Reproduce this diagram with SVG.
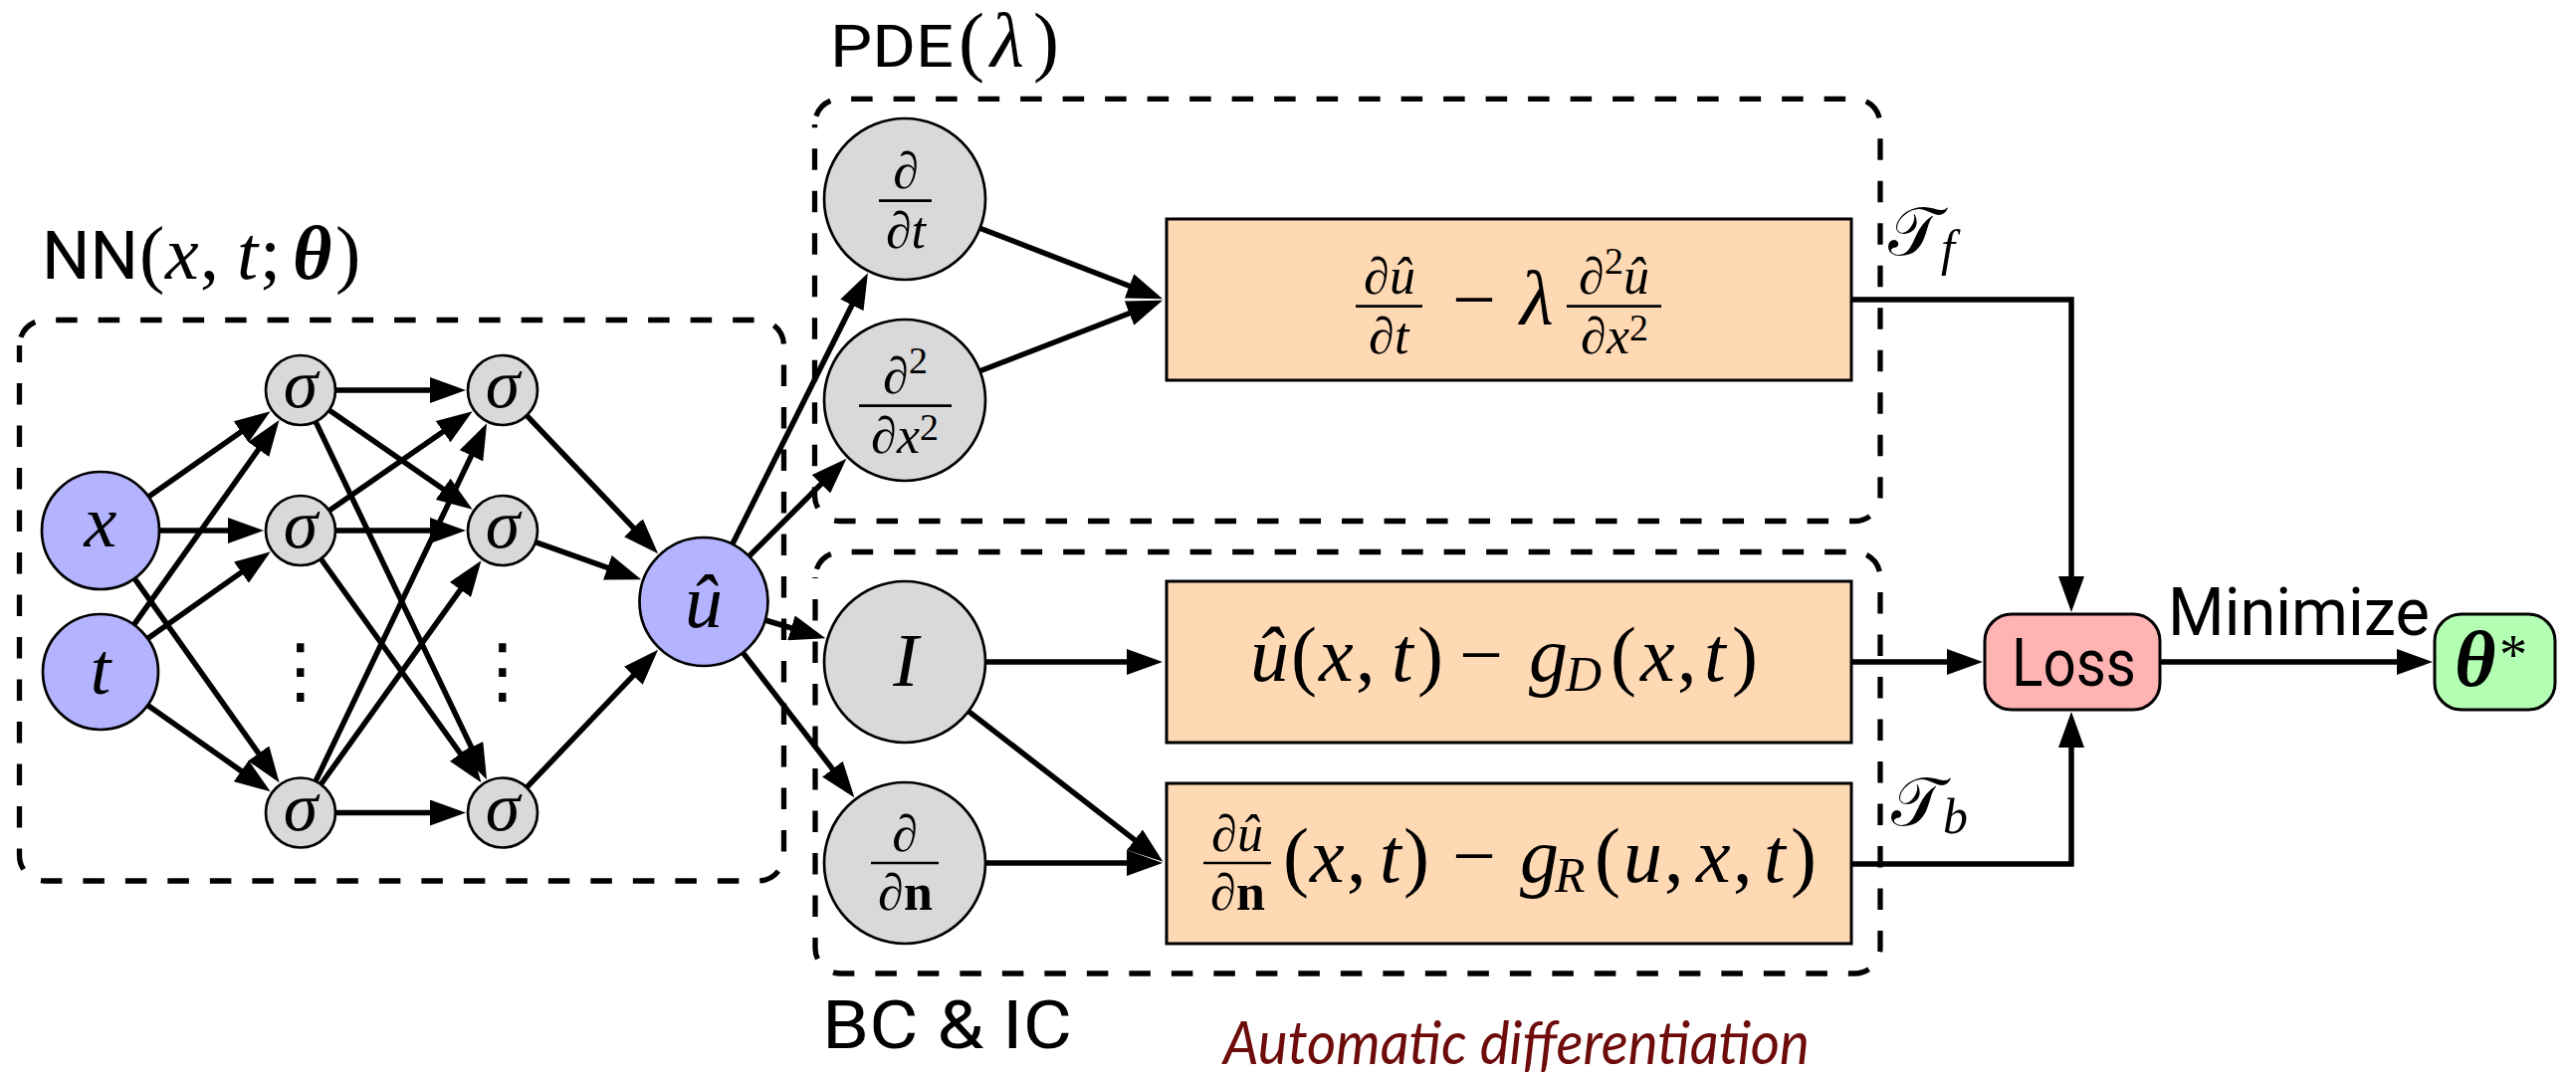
<svg xmlns="http://www.w3.org/2000/svg" width="2588" height="1081" viewBox="0 0 2588 1081">
<style>
.dash{fill:none;stroke:#000;stroke-width:5.3;stroke-dasharray:21.5 21;stroke-dashoffset:34}
.conn{fill:none;stroke:#000;stroke-width:5.5;marker-end:url(#ah)}
.in{fill:#b3b3ff;stroke:#000;stroke-width:2.7}
.hid{fill:#d9d9d9;stroke:#000;stroke-width:2.7}
.box{fill:#ffd9b3;stroke:#000;stroke-width:3}
.loss{fill:#ffb3b3;stroke:#000;stroke-width:3}
.out{fill:#b3ffb3;stroke:#000;stroke-width:3}
.mi{font-family:"Liberation Serif",serif;font-style:italic;fill:#000}
.fr{font-family:"Liberation Serif",serif;font-style:italic;fill:#000;font-size:52px}
.rm{font-style:normal}
.bf{font-weight:bold;font-style:normal}
.bi{font-weight:bold;font-style:italic}
.sup{font-style:normal;font-size:38px}
.sans{font-family:Roboto,"Liberation Sans",sans-serif;fill:#000}
.bar{stroke:#000;stroke-width:2.7}
.cal{font-family:"DejaVu Serif","DejaVu Sans",serif;font-style:normal}
</style>
<defs>
<marker id="ah" viewBox="0 0 36 26" markerWidth="36" markerHeight="26" refX="18" refY="13" markerUnits="userSpaceOnUse" orient="auto">
<path d="M0,0 L36,13 L0,26 Z" fill="#000"/>
</marker>
</defs>
<rect width="2588" height="1081" fill="#fff"/>

<g id="frames">
<path class="dash" d="M19.5,347.1 A25.6,25.6 0 0 1 45.1,321.5 H761.9 A25.6,25.6 0 0 1 787.5,347.1 V859.4 A25.6,25.6 0 0 1 761.9,885 H45.1 A25.6,25.6 0 0 1 19.5,859.4 Z"/>
<path class="dash" d="M818.5,124.9 A25.6,25.6 0 0 1 844.1,99.3 H1863.4 A25.6,25.6 0 0 1 1889,124.9 V497.9 A25.6,25.6 0 0 1 1863.4,523.5 H844.1 A25.6,25.6 0 0 1 818.5,497.9 Z"/>
<path class="dash" d="M819,580.1 A25.6,25.6 0 0 1 844.6,554.5 H1863.4 A25.6,25.6 0 0 1 1889,580.1 V952.4 A25.6,25.6 0 0 1 1863.4,978 H844.6 A25.6,25.6 0 0 1 819,952.4 Z"/>
</g>

<g id="labels">
<text class="sans" x="42" y="280" font-size="66" textLength="97" lengthAdjust="spacingAndGlyphs">NN</text>
<text class="mi" y="280" font-size="76"><tspan class="rm" x="140">(</tspan><tspan x="166">x</tspan><tspan class="rm" x="201">,</tspan><tspan x="238">t</tspan><tspan class="rm" x="261">;</tspan><tspan class="bi" x="294">θ</tspan><tspan class="rm" x="337">)</tspan></text>
<text class="sans" x="834" y="67" font-size="60" textLength="124" lengthAdjust="spacingAndGlyphs">PDE</text>
<text class="mi" y="67" font-size="78"><tspan class="rm" x="963">(</tspan><tspan x="995">λ</tspan><tspan class="rm" x="1038">)</tspan></text>
<text class="sans" x="826" y="1053" font-size="67" textLength="251" lengthAdjust="spacingAndGlyphs">BC &amp; IC</text>
<text x="1229" y="1069" font-family="Lato,'Open Sans',sans-serif" font-style="italic" font-size="60" fill="#6e0b0b" textLength="589" lengthAdjust="spacingAndGlyphs">Automatic differentiation</text>
<text class="mi" y="256" font-size="68"><tspan class="cal" x="1897">𝒯</tspan><tspan x="1950" dy="10" font-size="50">f</tspan></text>
<text class="mi" y="829" font-size="68"><tspan class="cal" x="1900">𝒯</tspan><tspan x="1952" dy="8" font-size="50">b</tspan></text>
<text class="sans" x="2178" y="638" font-size="66" textLength="263" lengthAdjust="spacingAndGlyphs">Minimize</text>
</g>

<g id="connectors">
<path class="conn" d="M149.3,499.1 L256.9,423.6"/>
<path class="conn" d="M160,533 L247,533"/>
<path class="conn" d="M135.1,581.1 L270.2,771.6"/>
<path class="conn" d="M134.6,627.7 L270.1,436.8"/>
<path class="conn" d="M148.4,641.5 L257.1,564.7"/>
<path class="conn" d="M148.4,708.4 L257,784.9"/>
<path class="conn" d="M337,392 L450,392"/>
<path class="conn" d="M330.7,412 L459.9,501.6"/>
<path class="conn" d="M317.1,423.6 L481.3,766.9"/>
<path class="conn" d="M330.7,513 L459.9,423.4"/>
<path class="conn" d="M337,533 L450,533"/>
<path class="conn" d="M322.4,561.5 L473,771.7"/>
<path class="conn" d="M317.1,784.9 L481.3,441.6"/>
<path class="conn" d="M322.4,788 L473,577.8"/>
<path class="conn" d="M337,816.5 L450,816.5"/>
<path class="conn" d="M529.1,417.4 L648.8,543.3"/>
<path class="conn" d="M538,544.7 L627.3,576.3"/>
<path class="conn" d="M529.1,791.2 L648.7,665.7"/>
<path class="conn" d="M735.8,546.8 L863.9,290.4"/>
<path class="conn" d="M752.6,558.8 L837.7,473.5"/>
<path class="conn" d="M768.8,623 L812.2,636.1"/>
<path class="conn" d="M746.3,655.6 L847.4,786.9"/>
<path class="conn" d="M984.5,229.2 L1151.3,293.8"/>
<path class="conn" d="M984.5,372.8 L1151.3,308.2"/>
<path class="conn" d="M990,665 L1150,665"/>
<path class="conn" d="M973.1,714.6 L1154.2,854.8"/>
<path class="conn" d="M990,867 L1150,867"/>
<path class="conn" d="M1860,301 H2081 V597"/>
<path class="conn" d="M1860,665 H1974"/>
<path class="conn" d="M1860,868 H2081 V733"/>
<path class="conn" d="M2170,665 H2426"/>
</g>

<g id="node-x"><circle class="in" cx="101" cy="533" r="59"/><text class="mi" x="101" y="549" font-size="74" text-anchor="middle">x</text></g>
<g id="node-t"><circle class="in" cx="101" cy="675" r="58"/><text class="mi" x="101" y="697" font-size="74" text-anchor="middle">t</text></g>

<g id="node-h1a"><circle class="hid" cx="302" cy="392" r="35"/><text class="mi" x="302" y="409" font-size="70" text-anchor="middle">σ</text></g>
<g id="node-h1b"><circle class="hid" cx="302" cy="533" r="35"/><text class="mi" x="302" y="550" font-size="70" text-anchor="middle">σ</text></g>
<g id="node-h1dots"><text x="302" y="698" font-family="DejaVu Sans,sans-serif" font-size="72" text-anchor="middle">⋮</text></g>
<g id="node-h1c"><circle class="hid" cx="302" cy="816.5" r="35"/><text class="mi" x="302" y="833.5" font-size="70" text-anchor="middle">σ</text></g>

<g id="node-h2a"><circle class="hid" cx="505" cy="392" r="35"/><text class="mi" x="505" y="409" font-size="70" text-anchor="middle">σ</text></g>
<g id="node-h2b"><circle class="hid" cx="505" cy="533" r="35"/><text class="mi" x="505" y="550" font-size="70" text-anchor="middle">σ</text></g>
<g id="node-h2dots"><text x="505" y="698" font-family="DejaVu Sans,sans-serif" font-size="72" text-anchor="middle">⋮</text></g>
<g id="node-h2c"><circle class="hid" cx="505" cy="816.5" r="35"/><text class="mi" x="505" y="833.5" font-size="70" text-anchor="middle">σ</text></g>

<g id="node-uhat"><circle class="in" cx="707" cy="604.5" r="64.5"/><text class="mi" x="707" y="630" font-size="76" text-anchor="middle">û</text></g>

<g id="node-dt"><circle class="hid" cx="909" cy="200" r="81"/>
<text class="fr" x="910" y="189" text-anchor="middle">∂</text>
<line class="bar" x1="883" y1="201.7" x2="936" y2="201.7"/>
<text class="fr" x="910" y="249" text-anchor="middle">∂t</text></g>

<g id="node-dxx"><circle class="hid" cx="909" cy="402" r="81"/>
<text class="fr" y="395"><tspan x="887">∂</tspan><tspan class="sup" x="913" dy="-20">2</tspan></text>
<line class="bar" x1="863" y1="407.7" x2="956" y2="407.7"/>
<text class="fr" y="455"><tspan x="875">∂</tspan><tspan x="901">x</tspan><tspan class="sup" x="924" dy="-13">2</tspan></text></g>

<g id="node-I"><circle class="hid" cx="909" cy="665" r="81"/><text class="mi" x="910" y="689" font-size="76" text-anchor="middle">I</text></g>

<g id="node-dn"><circle class="hid" cx="909" cy="867" r="81"/>
<text class="fr" x="909" y="854.5" text-anchor="middle">∂</text>
<line class="bar" x1="875" y1="867" x2="943" y2="867"/>
<text class="fr" y="914"><tspan x="882">∂</tspan><tspan class="bf" x="908">n</tspan></text></g>

<g id="node-res-pde"><rect class="box" x="1172" y="220" width="688" height="162"/>
<text class="fr" y="295"><tspan x="1370">∂</tspan><tspan x="1396">û</tspan></text>
<line class="bar" x1="1362" y1="307.7" x2="1429" y2="307.7"/>
<text class="fr" y="355"><tspan x="1375">∂</tspan><tspan x="1401">t</tspan></text>
<text class="mi rm" x="1481" y="327" font-size="78" text-anchor="middle">−</text>
<text class="mi" x="1527" y="326" font-size="78">λ</text>
<text class="fr" y="295"><tspan x="1586">∂</tspan><tspan class="sup" x="1612" dy="-20">2</tspan><tspan x="1631" dy="20">û</tspan></text>
<line class="bar" x1="1574" y1="307.7" x2="1669" y2="307.7"/>
<text class="fr" y="355"><tspan x="1588">∂</tspan><tspan x="1614">x</tspan><tspan class="sup" x="1637" dy="-13">2</tspan></text></g>

<g id="node-res-d"><rect class="box" x="1172" y="584" width="688" height="162"/>
<text class="mi" y="684" font-size="78"><tspan x="1256">û</tspan><tspan class="rm" x="1297">(</tspan><tspan x="1325">x</tspan><tspan class="rm" x="1362">,</tspan><tspan x="1398">t</tspan><tspan class="rm" x="1424">)</tspan><tspan class="rm" x="1466">−</tspan><tspan x="1536">g</tspan><tspan x="1573" dy="10" font-size="50">D</tspan><tspan class="rm" x="1618" dy="-10">(</tspan><tspan x="1648">x</tspan><tspan class="rm" x="1685">,</tspan><tspan x="1712">t</tspan><tspan class="rm" x="1740">)</tspan></text></g>

<g id="node-res-r"><rect class="box" x="1172" y="787" width="688" height="161"/>
<text class="fr" y="854.5"><tspan x="1217">∂</tspan><tspan x="1243">û</tspan></text>
<line class="bar" x1="1209" y1="867" x2="1277" y2="867"/>
<text class="fr" y="914"><tspan x="1216">∂</tspan><tspan class="bf" x="1242">n</tspan></text>
<text class="mi" y="886" font-size="78"><tspan class="rm" x="1289">(</tspan><tspan x="1316">x</tspan><tspan class="rm" x="1353">,</tspan><tspan x="1386">t</tspan><tspan class="rm" x="1410">)</tspan><tspan class="rm" x="1459">−</tspan><tspan x="1527">g</tspan><tspan x="1562" dy="10" font-size="50">R</tspan><tspan class="rm" x="1602" dy="-10">(</tspan><tspan x="1631">u</tspan><tspan class="rm" x="1672">,</tspan><tspan x="1704">x</tspan><tspan class="rm" x="1741">,</tspan><tspan x="1772">t</tspan><tspan class="rm" x="1799">)</tspan></text></g>

<g id="node-loss"><rect class="loss" x="1994" y="617" width="176" height="96" rx="27"/><text class="sans" x="2021" y="689" font-size="66" textLength="125" lengthAdjust="spacingAndGlyphs">Loss</text></g>
<g id="node-theta"><rect class="out" x="2446" y="617" width="121" height="96" rx="27"/><text class="mi" y="689" font-size="80"><tspan class="bi" x="2466">θ</tspan><tspan class="rm" x="2511" dy="-12" font-size="56">*</tspan></text></g>
</svg>
